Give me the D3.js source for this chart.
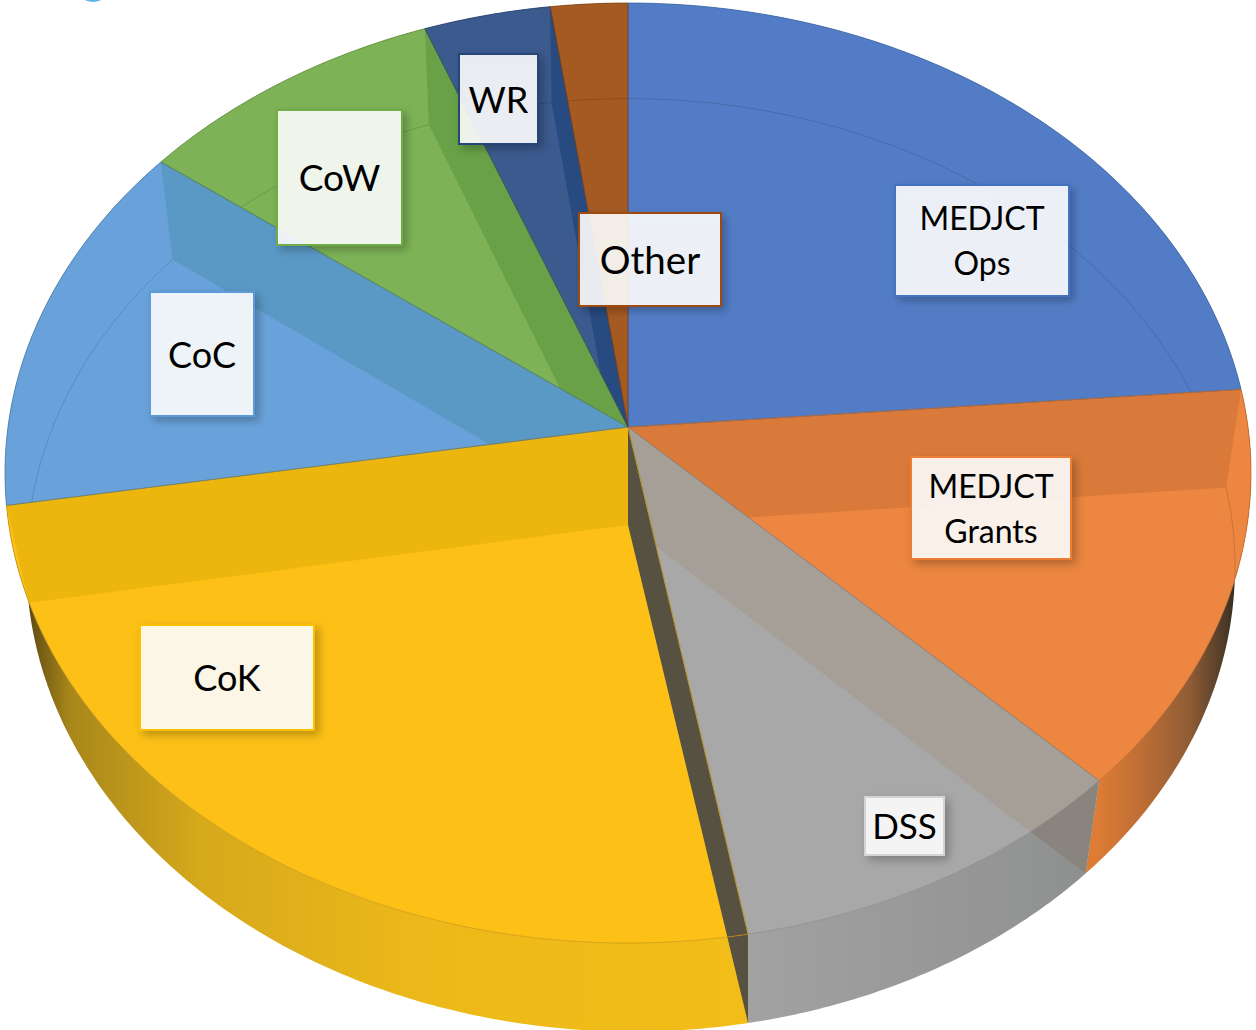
<!DOCTYPE html>
<html><head><meta charset="utf-8">
<script src="https://cdn.jsdelivr.net/npm/d3@7"></script>
<style>html,body{margin:0;padding:0;background:#fff;overflow:hidden}svg{display:block}text{font-family:Lato,"Open Sans",sans-serif}</style>
</head><body><div id="chart"></div>
<script>
// ---- data ----
const categories = ["MEDJCT Ops","MEDJCT Grants","DSS","CoK","CoC","CoW","WR","Other"];
const shares = [23.7,13.8,9.7,25.15,12.95,8.88,3.62,2.2];
// ---- styling ----
const faceColors = ["#527dc6","#ec8640","#a8a8a8","#fcc016","#69a2db","#7db356","#3b5a8e","#a55a22"];
const edgeColors = ["#3f639f","#c26a2a","#85857f","#c9960c","#46789f","#5f8a3f","#263f68","#7c4318"];
// slice index, which radial edge, colour over the face, colour outside the face
const wallSlices = [1,2,3,4,5,6,3];
const wallEdges  = ["start","start","end","end","end","end","start"];
const wallColors = ["#d97a3a","#a69f98","#ecb60f","#5a98c6","#68a147","#274a80","#565140"];
const wallOuters = ["#d97a3a","#8a847e","#ecb60f","#5a98c6","#68a147","#274a80","#565140"];
const labelBorder = ["#4472c4","#ed7d31","#d4d4d4","#ffc000","#5b9bd5","#70ad47","#264478","#9e480e"];
const labelLines = [["MEDJCT","Ops"],["MEDJCT","Grants"],["DSS"],["CoK"],["CoC"],["CoW"],["WR"],["Other"]];
const labelSizes = [32,32,35,36,36,37,36,38.5];
const labelBoxes = [[894,184,176,113],[910,456,162,104],[864,796,81,60],[139,624,176,107],[149,291,106,126],[276,109,127,137],[458,53,81,92],[578,212,144,95]];
const sideStops = {
  1:[[1095,"#de7c36"],[1140,"#c06e35"],[1190,"#8f5c35"],[1225,"#4d3a28"],[1240,"#2e241c"]],
  2:[[745,"#a2a2a2"],[950,"#979797"],[1090,"#8e9090"]],
  3:[[15,"#33290f"],[35,"#6b5514"],[70,"#a8871a"],[200,"#d6a91b"],[420,"#ecb91a"],[745,"#f2bd18"]]
};

const W=1256,H=1030,cx=628;
const svg=d3.select("#chart").append("svg").attr("width",W).attr("height",H).attr("viewBox",[0,0,W,H]);
const defs=svg.append("defs");

// perspective projection of the two circular faces
const upper=t=>{const c=Math.cos(t),s=Math.sin(t),k=1+0.0979*c;return [cx+620*s/k,427-465.5*c/k];};
const lower=t=>{const c=Math.cos(t),s=Math.sin(t),k=1+0.086*c;return [cx+602*s/k+2.5*(1-c),525-463*c/k];};
const line=d3.line();
const arcPts=(fn,a,b)=>{const n=Math.max(2,Math.ceil(Math.abs(b-a)/0.01));return d3.range(n+1).map(i=>fn(a+(b-a)*i/n));};

const arcs=d3.pie().sort(null).value(d=>d)(shares);
const apexU=[cx,427],apexL=[cx,525];
const sector=a=>[apexU,...arcPts(upper,a.startAngle,a.endAngle)];
const wedge=a=>[apexU,...arcPts(upper,a.startAngle,a.endAngle).filter((p,i,all)=>i%20===0||i===all.length-1).map(p=>[apexU[0]+(p[0]-apexU[0])*3,apexU[1]+(p[1]-apexU[1])*3])];

arcs.forEach((a,i)=>{
  defs.append("clipPath").attr("id","sec"+i).append("path").attr("d",line(sector(a))+"Z");
  defs.append("clipPath").attr("id","wed"+i).append("path").attr("d",line(wedge(a))+"Z");
});
Object.entries(sideStops).forEach(([i,st])=>{
  const x0=st[0][0],x1=st[st.length-1][0];
  const pos=d3.scaleLinear().domain([x0,x1]).range([0,100]);
  defs.append("linearGradient").attr("id","side"+i).attr("gradientUnits","userSpaceOnUse")
    .attr("x1",x0).attr("x2",x1).attr("y1",0).attr("y2",0)
    .selectAll("stop").data(st).join("stop").attr("offset",d=>pos(d[0])+"%").attr("stop-color",d=>d[1]);
});
const sh=defs.append("filter").attr("id","shadow").attr("x","-20%").attr("y","-20%").attr("width","150%").attr("height","150%");
sh.append("feDropShadow").attr("dx",4).attr("dy",4).attr("stdDeviation",4).attr("flood-color","#000").attr("flood-opacity",0.28);

// small clipped mark at the top-left edge of the picture
svg.append("ellipse").attr("cx",93).attr("cy",-3).attr("rx",10).attr("ry",5).attr("fill","#5cb5ea");

// outer side strips
arcs.forEach((a,i)=>{
  const fill=sideStops[i]?`url(#side${i})`:faceColors[i];
  svg.append("path").attr("d",line([...arcPts(upper,a.startAngle,a.endAngle),...arcPts(lower,a.endAngle,a.startAngle)])+"Z").attr("fill",fill);
});
const wallQuad=(i,k)=>{const a=arcs[i];const t=wallEdges[k]==="start"?a.startAngle:a.endAngle;return [apexU,upper(t),lower(t),apexL];};
// outer tone of the walls
wallSlices.forEach((i,k)=>{
  svg.append("path").attr("d",line(wallQuad(i,k))+"Z").attr("fill",wallOuters[k]).attr("clip-path",`url(#wed${i})`);
});
// faces
arcs.forEach((a,i)=>svg.append("path").attr("d",line(sector(a))+"Z").attr("fill",faceColors[i]));
// walls over the faces
wallSlices.forEach((i,k)=>{
  svg.append("g").attr("clip-path",`url(#sec${i})`).append("path").attr("d",line(wallQuad(i,k))+"Z").attr("fill",wallColors[k]);
});
// lower-ring hairline seen through the faces
arcs.forEach((a,i)=>{
  if(i===2||i===3) return;
  svg.append("g").attr("clip-path",`url(#sec${i})`).append("path")
   .attr("d",line(arcPts(lower,a.startAngle,a.endAngle))).attr("fill","none")
   .attr("stroke","#000").attr("stroke-opacity",0.14).attr("stroke-width",1);
});
// edges
arcs.forEach((a,i)=>svg.append("path").attr("d",line(sector(a))+"Z").attr("fill","none").attr("stroke",edgeColors[i]).attr("stroke-opacity",0.75).attr("stroke-width",1));

// labels
const lab=svg.append("g").selectAll("g").data(categories).join("g");
lab.each(function(d,i){
  const [x,y,w,h]=labelBoxes[i];const g=d3.select(this);
  g.append("rect").attr("x",x+1).attr("y",y+1).attr("width",w-2).attr("height",h-2)
    .attr("fill","#fff").attr("fill-opacity",0.88).attr("stroke",labelBorder[i]).attr("stroke-width",2).attr("filter","url(#shadow)");
  const ls=labelLines[i],lh=45;
  ls.forEach((t,k)=>g.append("text").attr("x",x+w/2).attr("y",y+h/2+1+(k-(ls.length-1)/2)*lh).attr("dy","0.35em")
    .attr("text-anchor","middle").attr("font-size",labelSizes[i]).attr("fill","#000").text(t));
});
</script></body></html>
